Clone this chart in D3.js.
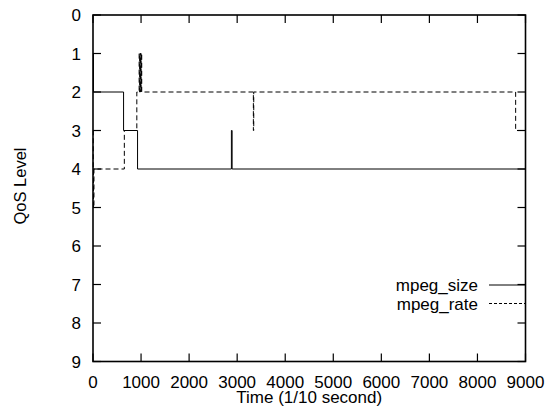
<!DOCTYPE html>
<html>
<head>
<meta charset="utf-8">
<script src="https://cdn.jsdelivr.net/npm/d3@7"></script>
<style>
  html, body { margin: 0; padding: 0; background: #fff; }
  svg { display: block; }
  text { font-family: "Liberation Sans", Arial, Helvetica, sans-serif; fill: #000; }
</style>
</head>
<body>
<div id="chart"></div>
<script>
// step data: [time, level] pairs, level holds until next time
const sizeTime  = [0, 10, 636, 927, 2880, 2895, 9000];
const sizeLevel = [1, 2, 3, 4, 3, 4, 4];

const rateTime  = [0, 5, 10, 20, 652, 912, 960, 970, 978, 986, 992, 1000, 1006, 1014, 3337, 3345, 8795, 9000];
const rateLevel = [3, 4, 5, 4, 3, 2, 1, 2, 1, 2, 1, 2, 1, 2, 3, 2, 3, 3];

const xTicks = [0, 1000, 2000, 3000, 4000, 5000, 6000, 7000, 8000, 9000];
const yTicks = [0, 1, 2, 3, 4, 5, 6, 7, 8, 9];

const seriesNames = ["mpeg_size", "mpeg_rate"];

const width = 559;
const height = 409;
const margin = { top: 15, right: 33.5, bottom: 47.5, left: 93 };
const fontSize = 17;
const tickLen = 8;

const svg = d3.select("#chart")
  .append("svg")
  .attr("width", width)
  .attr("height", height);

const innerWidth = width - margin.left - margin.right;
const innerHeight = height - margin.top - margin.bottom;

const x = d3.scaleLinear().domain([0, 9000]).range([0, innerWidth]);
const y = d3.scaleLinear().domain([0, 9]).range([0, innerHeight]);

const g = svg.append("g")
  .attr("transform", `translate(${margin.left},${margin.top})`);

// inward ticks on all four sides, gnuplot style
const ticks = g.append("g").attr("stroke", "#000").attr("stroke-width", 1.2);
xTicks.forEach((t) => {
  ticks.append("line").attr("x1", x(t)).attr("x2", x(t)).attr("y1", innerHeight).attr("y2", innerHeight - tickLen);
  ticks.append("line").attr("x1", x(t)).attr("x2", x(t)).attr("y1", 0).attr("y2", tickLen);
});
yTicks.forEach((t) => {
  ticks.append("line").attr("x1", 0).attr("x2", tickLen).attr("y1", y(t)).attr("y2", y(t));
  ticks.append("line").attr("x1", innerWidth).attr("x2", innerWidth - tickLen).attr("y1", y(t)).attr("y2", y(t));
});

g.append("g")
  .selectAll("text")
  .data(xTicks)
  .join("text")
  .attr("x", (d) => x(d))
  .attr("y", innerHeight + 26)
  .attr("text-anchor", "middle")
  .style("font-size", fontSize + "px")
  .text((d) => d);

g.append("g")
  .selectAll("text")
  .data(yTicks)
  .join("text")
  .attr("x", -12)
  .attr("y", (d) => y(d))
  .attr("dy", "0.36em")
  .attr("text-anchor", "end")
  .style("font-size", fontSize + "px")
  .text((d) => d);

const line = d3.line()
  .x((d) => x(d[0]))
  .y((d) => y(d[1]))
  .curve(d3.curveStepAfter);

const sizePts = sizeTime.map((t, i) => [t, sizeLevel[i]]);
const ratePts = rateTime.map((t, i) => [t, rateLevel[i]]);

g.append("path")
  .attr("d", line(sizePts))
  .attr("fill", "none")
  .attr("stroke", "#000")
  .attr("stroke-width", 1);

g.append("path")
  .attr("d", line(ratePts))
  .attr("fill", "none")
  .attr("stroke", "#000")
  .attr("stroke-width", 1)
  .attr("stroke-dasharray", "5,3");

// frame
g.append("rect")
  .attr("width", innerWidth)
  .attr("height", innerHeight)
  .attr("fill", "none")
  .attr("stroke", "#000")
  .attr("stroke-width", 1.6);

// legend
const legend = g.append("g");
seriesNames.forEach((name, i) => {
  const ly = 285 + i * 18.5 - margin.top;
  legend.append("text")
    .attr("x", 478 - margin.left)
    .attr("y", ly)
    .attr("dy", "0.36em")
    .attr("text-anchor", "end")
    .style("font-size", fontSize + "px")
    .text(name);
  legend.append("line")
    .attr("x1", 489 - margin.left)
    .attr("x2", innerWidth)
    .attr("y1", ly)
    .attr("y2", ly)
    .attr("stroke", "#000")
    .attr("stroke-width", 1)
    .attr("stroke-dasharray", i === 1 ? "3,2" : null);
});

svg.append("text")
  .attr("x", margin.left + innerWidth / 2)
  .attr("y", height - 6)
  .attr("text-anchor", "middle")
  .style("font-size", fontSize + "px")
  .text("Time (1/10 second)");

svg.append("text")
  .attr("transform", `translate(20,186) rotate(-90)`)
  .attr("dy", "0.36em")
  .attr("text-anchor", "middle")
  .style("font-size", "16.5px")
  .text("QoS Level");
</script>
</body>
</html>
